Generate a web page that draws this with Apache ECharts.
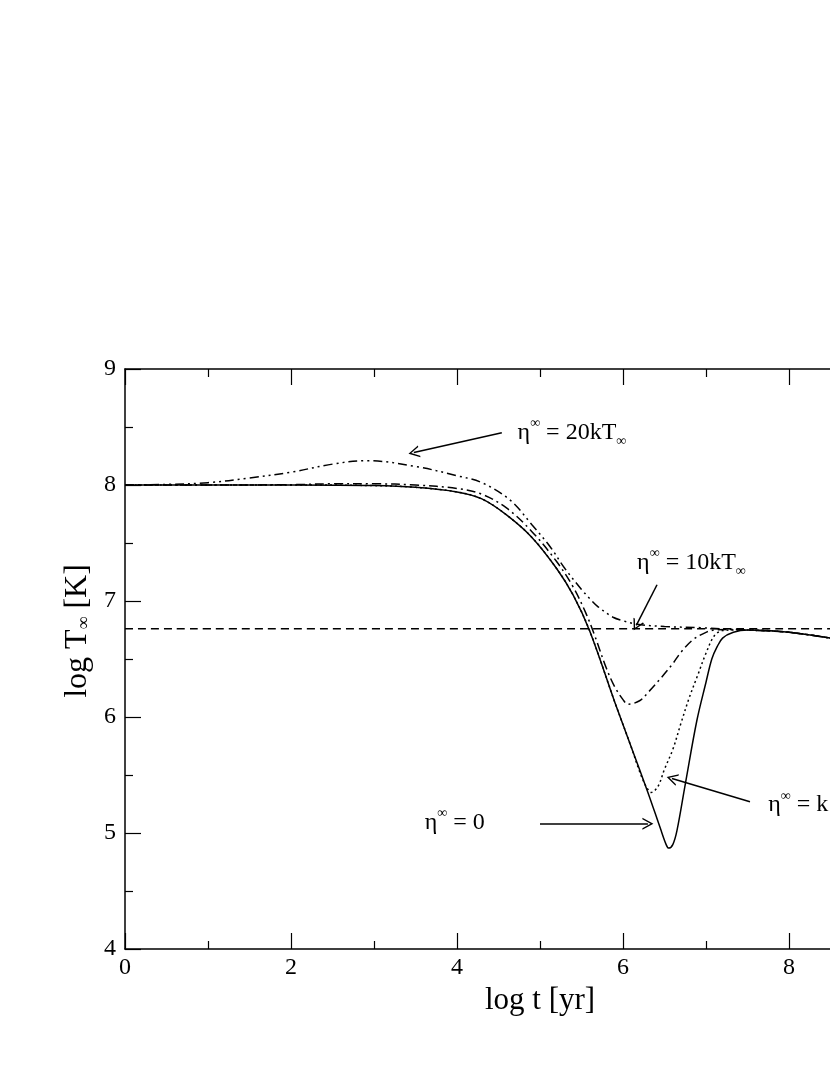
<!DOCTYPE html>
<html>
<head>
    <meta charset="utf-8">
    <title>log T vs log t</title>
    <script src="https://cdn.jsdelivr.net/npm/echarts@6/dist/echarts.min.js"></script>
</head>
<body style="margin:0;background:#fff;">
    <div id="main" style="width: 830px;height:1075px;"></div>
    <script type="text/javascript">
        // eta = 0 (solid)
        var solidX = [0, 1, 2, 3, 3.5, 4, 4.3, 4.6, 4.9, 5.2, 5.4, 5.6, 5.9, 6.1, 6.3, 6.45, 6.52, 6.55, 6.6, 6.65, 6.75, 6.89, 7.0, 7.07, 7.13, 7.2, 7.33, 7.5, 8, 8.5];
        var solidY = [8, 8, 8, 7.995, 7.98, 7.94, 7.88, 7.74, 7.55, 7.28, 7.05, 6.74, 6.13, 5.74, 5.35, 5.04, 4.9, 4.87, 4.9, 5.02, 5.42, 5.97, 6.3, 6.5, 6.6, 6.68, 6.73, 6.75, 6.73, 6.68];
        // eta = kT (dotted)
        var dotX = [0, 1, 2, 3, 3.5, 4, 4.3, 4.6, 4.9, 5.2, 5.4, 5.6, 5.9, 6.1, 6.2, 6.28, 6.34, 6.42, 6.5, 6.6, 6.7, 6.8, 6.9, 7.0, 7.1, 7.2, 7.35, 7.5, 8, 8.5];
        var dotY = [8, 8, 8, 7.995, 7.98, 7.94, 7.88, 7.74, 7.55, 7.28, 7.05, 6.74, 6.13, 5.74, 5.53, 5.4, 5.35, 5.4, 5.55, 5.72, 5.95, 6.17, 6.36, 6.55, 6.7, 6.745, 6.75, 6.75, 6.73, 6.68];
        // dash-dot, dips to ~6.1
        var dipX = [0, 1, 2, 2.5, 3, 3.5, 4, 4.3, 4.6, 4.9, 5.2, 5.4, 5.55, 5.65, 5.8, 5.9, 6.0, 6.06, 6.2, 6.3, 6.45, 6.6, 6.7, 6.85, 7.0, 7.1, 7.3, 7.5, 8, 8.5];
        var dipY = [8, 8, 8.003, 8.01, 8.01, 8.0, 7.97, 7.92, 7.8, 7.6, 7.34, 7.12, 6.9, 6.72, 6.42, 6.26, 6.15, 6.11, 6.14, 6.21, 6.33, 6.46, 6.56, 6.67, 6.73, 6.75, 6.755, 6.75, 6.73, 6.68];
        // dash-dot-dot, bump to ~8.2
        var bumpX = [0, 0.5, 1, 1.5, 2, 2.5, 2.92, 3.5, 4, 4.3, 4.64, 4.9, 5.12, 5.3, 5.5, 5.6, 5.7, 5.88, 6.0, 6.17, 6.5, 6.93, 7.3, 7.5, 8, 8.5];
        var bumpY = [8, 8.005, 8.02, 8.06, 8.11, 8.18, 8.21, 8.16, 8.08, 8.02, 7.87, 7.66, 7.47, 7.28, 7.1, 7.02, 6.95, 6.86, 6.83, 6.8, 6.78, 6.77, 6.755, 6.75, 6.73, 6.68];
        // horizontal dashed level
        var levelX = [0, 8.5];
        var levelY = [6.76, 6.76];

        var xTicks = [0, 2, 4, 6, 8];
        var yTicks = [4, 5, 6, 7, 8, 9];

        // annotations: label anchor, arrow tail, arrow head (data coords)
        var notes = [
            { text: '{e|η}{sup|∞}{e| = 20kT}{sub|∞}', at: [4.73, 8.45], from: [4.54, 8.45], to: [3.48, 8.28] },
            { text: '{e|η}{sup|∞}{e| = 10kT}{sub|∞}', at: [6.17, 7.33], from: [6.41, 7.14], to: [6.16, 6.79] },
            { text: '{e|η}{sup|∞}{e| = k}', at: [7.75, 5.24], from: [7.53, 5.27], to: [6.59, 5.47] },
            { text: '{e|η}{sup|∞}{e| = 0}', at: [3.61, 5.09], from: [5.0, 5.08], to: [6.30, 5.08] }
        ];

        var serif = "'Liberation Serif', 'Times New Roman', serif";
        var chevron = 'path://M5,0L10,10L8.7,10L5,2.6L1.3,10L0,10Z';

        function pairs(xs, ys) {
            return xs.map(function (x, i) { return [x, ys[i]]; });
        }

        function curve(name, xs, ys, type) {
            return {
                name: name,
                type: 'line',
                data: pairs(xs, ys),
                showSymbol: false,
                smooth: 0.35,
                clip: true,
                lineStyle: { color: '#000', width: 1.5, type: type }
            };
        }

        var richText = {
            e: { fontFamily: serif, fontSize: 24, color: '#000', lineHeight: 32 },
            sup: { fontFamily: serif, fontSize: 14, color: '#000', verticalAlign: 'top', lineHeight: 32, padding: [0, 0, 12, 0] },
            sub: { fontFamily: serif, fontSize: 14, color: '#000', verticalAlign: 'bottom', lineHeight: 32, padding: [10, 0, 0, 0] }
        };

        var tickStyle = { color: '#000', width: 1.2 };

        var myChart = echarts.init(document.getElementById('main'));
        var option = {
            backgroundColor: '#fff',
            animation: false,
            // the plot continues to log t = 10, past the right edge of the page
            grid: { left: 125, top: 369, width: 830, height: 580, outerBoundsMode: 'none', containLabel: false },
            xAxis: [{
                type: 'value', min: 0, max: 10, interval: 2,
                name: 'log t [yr]', nameLocation: 'middle', nameGap: 36,
                nameTextStyle: { fontFamily: serif, fontSize: 31, color: '#000' },
                axisLine: { lineStyle: { color: '#000', width: 1.5 } },
                axisTick: { inside: true, length: 16, lineStyle: tickStyle },
                minorTick: { show: true, splitNumber: 2, length: 8, lineStyle: tickStyle },
                splitLine: { show: false },
                axisLabel: {
                    fontFamily: serif, fontSize: 24, color: '#000', margin: 7,
                    formatter: function (v) { return xTicks.indexOf(v) >= 0 ? String(v) : ''; }
                }
            }, {
                type: 'value', min: 0, max: 10, interval: 2, position: 'top',
                axisLine: { lineStyle: { color: '#000', width: 1.5 } },
                axisTick: { inside: true, length: 16, lineStyle: tickStyle },
                minorTick: { show: true, splitNumber: 2, length: 8, lineStyle: tickStyle },
                splitLine: { show: false },
                axisLabel: { show: false }
            }],
            yAxis: [{
                type: 'value', min: 4, max: 9, interval: 1,
                name: 'log T{sub|∞} [K]', nameLocation: 'middle', nameGap: 30,
                nameTextStyle: {
                    fontFamily: serif, fontSize: 32, color: '#000',
                    padding: [0, 0, 0, 56],
                    rich: { sub: { fontFamily: serif, fontSize: 18, color: '#000', padding: [14, 0, 0, 0] } }
                },
                axisLine: { lineStyle: { color: '#000', width: 1.5 } },
                axisTick: { inside: true, length: 16, lineStyle: tickStyle },
                minorTick: { show: true, splitNumber: 2, length: 8, lineStyle: tickStyle },
                splitLine: { show: false },
                axisLabel: {
                    fontFamily: serif, fontSize: 24, color: '#000', margin: 9,
                    formatter: function (v) { return yTicks.indexOf(v) >= 0 ? String(v) : ''; }
                }
            }],
            series: [
                curve('level', levelX, levelY, [8, 5]),
                curve('bump', bumpX, bumpY, [9, 4, 2, 4, 2, 4]),
                curve('dip', dipX, dipY, [9, 4, 2, 4]),
                curve('dotted', dotX, dotY, [2, 3]),
                curve('eta0', solidX, solidY, 'solid'),
                {
                    name: 'notes',
                    type: 'line',
                    data: [],
                    markLine: {
                        silent: true,
                        symbol: ['none', chevron],
                        symbolSize: [12, 11],
                        label: { show: false },
                        lineStyle: { color: '#000', width: 1.5, type: 'solid' },
                        data: notes.map(function (n) {
                            return [{ coord: n.from }, { coord: n.to }];
                        })
                    },
                    markPoint: {
                        silent: true,
                        symbol: 'circle',
                        symbolSize: 0,
                        label: { show: true, position: 'right', distance: 0, rich: richText },
                        data: notes.map(function (n) {
                            return { coord: n.at, label: { formatter: n.text } };
                        })
                    }
                }
            ]
        };
        myChart.setOption(option);
    </script>
</body>
</html>
